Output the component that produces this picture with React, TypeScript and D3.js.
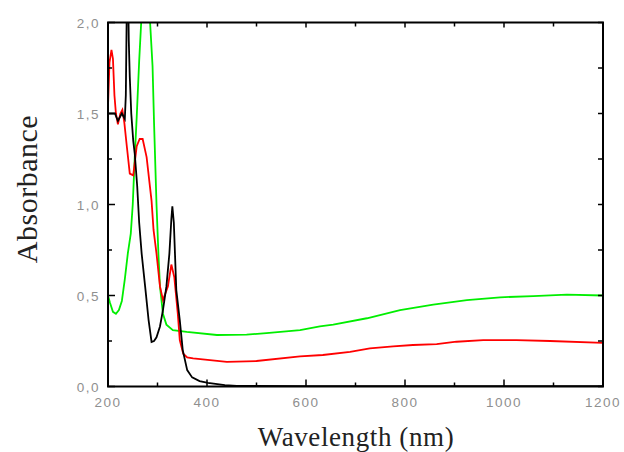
import React from "react";
import * as d3 from "d3";

const blackWl = [200, 214, 220, 228, 234, 236, 238, 240, 242, 244, 247, 251, 254, 259, 263, 268, 275, 282, 288, 293, 298, 305, 311, 318, 324, 328, 330, 333, 338, 345, 351, 360, 370, 385, 402, 436, 460, 600, 1200];
const blackAbs = [1.5, 1.5, 1.46, 1.5, 1.47, 1.6, 2.1, 2.3, 1.9, 1.7, 1.5, 1.35, 1.28, 1.1, 0.9, 0.73, 0.55, 0.365, 0.245, 0.25, 0.27, 0.33, 0.42, 0.55, 0.73, 0.92, 0.99, 0.9, 0.53, 0.365, 0.2, 0.09, 0.05, 0.03, 0.02, 0.008, 0.003, 0.002, 0.002];

const redWl = [200, 203, 207, 210, 213, 216, 220, 225, 229, 233, 238, 244, 251, 258, 264, 270, 278, 288, 292, 298, 305, 311, 321, 328, 334, 341, 345, 352, 360, 372, 440, 500, 588, 634, 689, 729, 776, 816, 864, 904, 958, 1025, 1093, 1200];
const redAbs = [1.54, 1.78, 1.85, 1.8, 1.6, 1.5, 1.44, 1.5, 1.52, 1.45, 1.32, 1.17, 1.16, 1.32, 1.36, 1.36, 1.26, 1.02, 0.86, 0.73, 0.55, 0.475, 0.55, 0.67, 0.6, 0.4, 0.255, 0.18, 0.16, 0.155, 0.135, 0.14, 0.165, 0.173, 0.19, 0.21, 0.22, 0.228, 0.233, 0.246, 0.255, 0.255, 0.25, 0.24];

const greenWl = [200, 204, 210, 216, 222, 228, 234, 240, 246, 250, 254, 258, 263, 268, 272, 278, 284, 290, 293, 298, 302, 305, 311, 318, 331, 359, 420, 480, 520, 588, 628, 655, 723, 790, 857, 925, 992, 1059, 1127, 1200];
const greenAbs = [0.5, 0.46, 0.41, 0.4, 0.42, 0.47, 0.59, 0.73, 0.84, 1.0, 1.26, 1.48, 1.79, 2.05, 2.3, 2.3, 2.05, 1.76, 1.45, 1.0, 0.72, 0.55, 0.4, 0.34, 0.31, 0.3, 0.283, 0.285, 0.293, 0.31, 0.33, 0.34, 0.375, 0.42, 0.45, 0.475, 0.49, 0.497, 0.505, 0.5];

const xTicks = [200, 400, 600, 800, 1000, 1200];
const xMinor = [300, 500, 700, 900, 1100];
const yTicks = [0, 0.5, 1.0, 1.5, 2.0];
const yMinor = [0.25, 0.75, 1.25, 1.75];
const yTickLabels = ["0,0", "0,5", "1,0", "1,5", "2,0"];

const series = [
  { wl: greenWl, abs: greenAbs, color: "#00ee00" },
  { wl: redWl, abs: redAbs, color: "#ff0000" },
  { wl: blackWl, abs: blackAbs, color: "#000000" },
];

export default function App() {
  const L = 108, R = 603, T = 22.5, B = 386.5;
  const x = d3.scaleLinear().domain([200, 1200]).range([L, R]);
  const y = d3.scaleLinear().domain([0, 2]).range([B, T]);
  const line = d3.line<[number, number]>().x((d) => x(d[0])).y((d) => y(d[1]));
  const tickColor = "#8f8f8f";
  const tickFont = "Liberation Sans, Arial, sans-serif";
  return (
    <svg width={624} height={452} style={{ position: "absolute", left: 0, top: 0, background: "#fff" }}>
      <defs>
        <clipPath id="plot">
          <rect x={L} y={T} width={R - L} height={B - T} />
        </clipPath>
      </defs>
      <g clipPath="url(#plot)">
        {series.map((s, i) => (
          <path
            key={i}
            d={line(s.wl.map((w, j) => [w, s.abs[j]] as [number, number])) || ""}
            fill="none"
            stroke={s.color}
            strokeWidth={1.8}
          />
        ))}
      </g>
      <rect x={L} y={T} width={R - L} height={B - T} fill="none" stroke="#000" strokeWidth={2} />
      {xTicks.map((t) => (
        <g key={"x" + t}>
          <line x1={x(t)} x2={x(t)} y1={B} y2={B - 7} stroke="#000" strokeWidth={1.5} />
          <line x1={x(t)} x2={x(t)} y1={T} y2={T + 5} stroke="#000" strokeWidth={1.5} />
          <text x={x(t)} y={407} textAnchor="middle" fontFamily={tickFont} fontSize={13.5} letterSpacing={1.5} fill={tickColor}>
            {t}
          </text>
        </g>
      ))}
      {xMinor.map((t) => (
        <g key={"xm" + t}>
          <line x1={x(t)} x2={x(t)} y1={B} y2={B - 4} stroke="#000" strokeWidth={1.5} />
          <line x1={x(t)} x2={x(t)} y1={T} y2={T + 4} stroke="#000" strokeWidth={1.5} />
        </g>
      ))}
      {yTicks.map((t, i) => (
        <g key={"y" + t}>
          <line x1={L} x2={L + 7} y1={y(t)} y2={y(t)} stroke="#000" strokeWidth={1.5} />
          <line x1={R} x2={R - 5} y1={y(t)} y2={y(t)} stroke="#000" strokeWidth={1.5} />
          <text x={100} y={y(t) + 5} textAnchor="end" fontFamily={tickFont} fontSize={13.5} letterSpacing={1.5} fill={tickColor}>
            {yTickLabels[i]}
          </text>
        </g>
      ))}
      {yMinor.map((t) => (
        <g key={"ym" + t}>
          <line x1={L} x2={L + 4} y1={y(t)} y2={y(t)} stroke="#000" strokeWidth={1.5} />
          <line x1={R} x2={R - 5} y1={y(t)} y2={y(t)} stroke="#000" strokeWidth={1.5} />
        </g>
      ))}
      <text x={356} y={446} textAnchor="middle" fontFamily="Liberation Serif, Times New Roman, serif" fontSize={27} letterSpacing={0.6} fill="#222">
        Wavelength (nm)
      </text>
      <text transform="translate(37,189) rotate(-90)" textAnchor="middle" fontFamily="Liberation Serif, Times New Roman, serif" fontSize={30} letterSpacing={0.5} fill="#222">
        Absorbance
      </text>
    </svg>
  );
}
